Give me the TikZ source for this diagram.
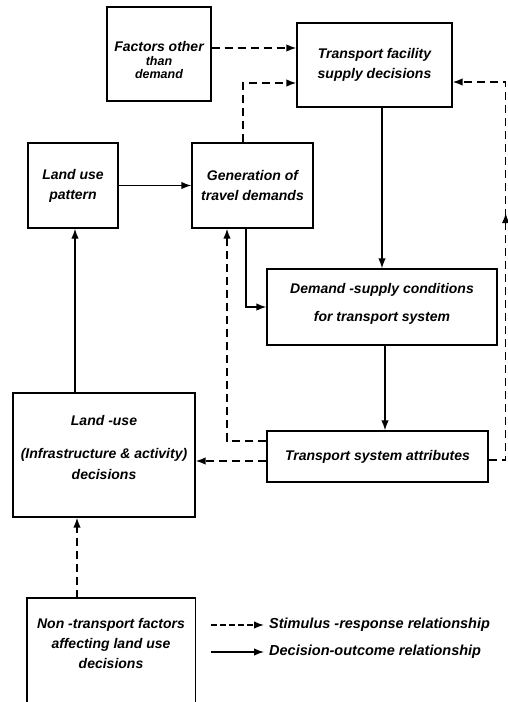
\documentclass[tikz,border=0pt]{standalone}
\usepackage{fontspec}
\setmainfont{Liberation Sans}
\usetikzlibrary{arrows.meta,decorations.markings}

\begin{document}
\begin{tikzpicture}[x=1pt,y=-1pt,
  txt/.style={font=\bfseries\itshape\fontsize{14}{17}\selectfont, align=center, inner sep=0pt},
  box/.style={txt, draw, line width=1.4pt},
  tip/.style={-{Latex[length=10pt,width=7.5pt]}},
  solidarr/.style={line width=1.4pt, tip},
  dasharr/.style={line width=1.5pt, dash pattern=on 8pt off 5pt, tip},
]
% canvas
\fill[white] (0,0) rectangle (507,702);
\useasboundingbox (0,0) rectangle (507,702);

% boxes
\node[box, minimum width=104pt, minimum height=94pt] (fac) at (159,54) {};
\node[txt] (factxt) at (159,60)
  {Factors other\\[-3pt]{\fontsize{12.5}{13}\selectfont than}\\[-4pt]{\fontsize{12.5}{13}\selectfont demand}};
\node[box, minimum width=155pt, minimum height=84pt] (tf) at (374.5,65)
  {Transport facility\\[3pt]supply decisions};
\node[box, minimum width=90pt, minimum height=85pt] (lup) at (73,185.5)
  {Land use\\[3pt]pattern};
\node[box, minimum width=121pt, minimum height=85pt] (gen) at (252.5,185.5)
  {Generation of\\[3pt]travel demands};
\node[box, minimum width=230pt, minimum height=76pt] (ds) at (382,307) {};
\node[txt] (dstxt) at (382,304) {Demand -supply conditions\\[11pt]for transport system};
\node[box, minimum width=221pt, minimum height=51pt] (tsa) at (377.5,456.5)
  {Transport system attributes};
\node[box, minimum width=182pt, minimum height=124pt] (lud) at (104,455) {};
\node[txt] (ludtxt) at (104,447) {Land -use\\[16pt](Infrastructure \& activity)\\[4pt]decisions};

% open-bottomed box running off the lower edge
\node[txt, minimum width=168pt, minimum height=90pt] (nontr) at (111,643)
  {Non -transport factors\\[3pt]affecting land use\\[3pt]decisions};
\draw[line width=1.4pt] ([yshift=-16pt]nontr.south west) -- (nontr.north west)
  -- (nontr.north east) -- ([yshift=-16pt]nontr.south east);

% decision-outcome links
\draw[solidarr] (lup.east) -- (lup.east -| gen.west);
\draw[solidarr] ([xshift=7.5pt]tf.south) -- ([xshift=7.5pt]tf.south |- ds.north);
\draw[solidarr] ([xshift=-6.5pt]gen.south) |- (ds.west);
\draw[solidarr] ([xshift=3pt]ds.south) -- ([xshift=3pt]ds.south |- tsa.north);
\draw[solidarr] ([xshift=-29pt]lud.north) -- ([xshift=-29pt]lud.north |- lup.south);

% stimulus-response links
\draw[dasharr] ([yshift=6pt]fac.east) -- ([yshift=6pt]fac.east -| tf.west);
\draw[dasharr] ([xshift=-9.5pt]gen.north) |- ([yshift=-18pt]tf.west);
\draw[dasharr] ([yshift=15.5pt]tsa.west) -| ([xshift=-25.5pt]gen.south);
\draw[dasharr] ([yshift=-4.5pt]tsa.west) -- ([yshift=-4.5pt]tsa.west -| lud.east);
\draw[dasharr] ([xshift=-34pt]nontr.north) -- ([xshift=-34pt]nontr.north |- lud.south);
\draw[dasharr, postaction={decorate, decoration={markings,
    mark=at position 264pt with {\arrow{Latex[length=10pt,width=7.5pt]}}}}]
  ([yshift=-3.5pt]tsa.east) -- ++(17,0) |- ([yshift=-17pt]tf.east);

% legend
\coordinate (lgA) at (211,625);
\coordinate (lgB) at (264,625);
\coordinate (lgC) at (211,652);
\coordinate (lgD) at (264,652);
\draw[dasharr, dash pattern=on 6pt off 3pt] (lgA) -- (lgB);
\draw[solidarr] (lgC) -- (lgD);
\node[txt, anchor=west, font=\bfseries\itshape\fontsize{14.5}{17}\selectfont] (lgtxt1) at (269,625) {Stimulus -response relationship};
\node[txt, anchor=west, font=\bfseries\itshape\fontsize{14.5}{17}\selectfont] (lgtxt2) at (269,652) {Decision-outcome relationship};
\end{tikzpicture}
\end{document}
